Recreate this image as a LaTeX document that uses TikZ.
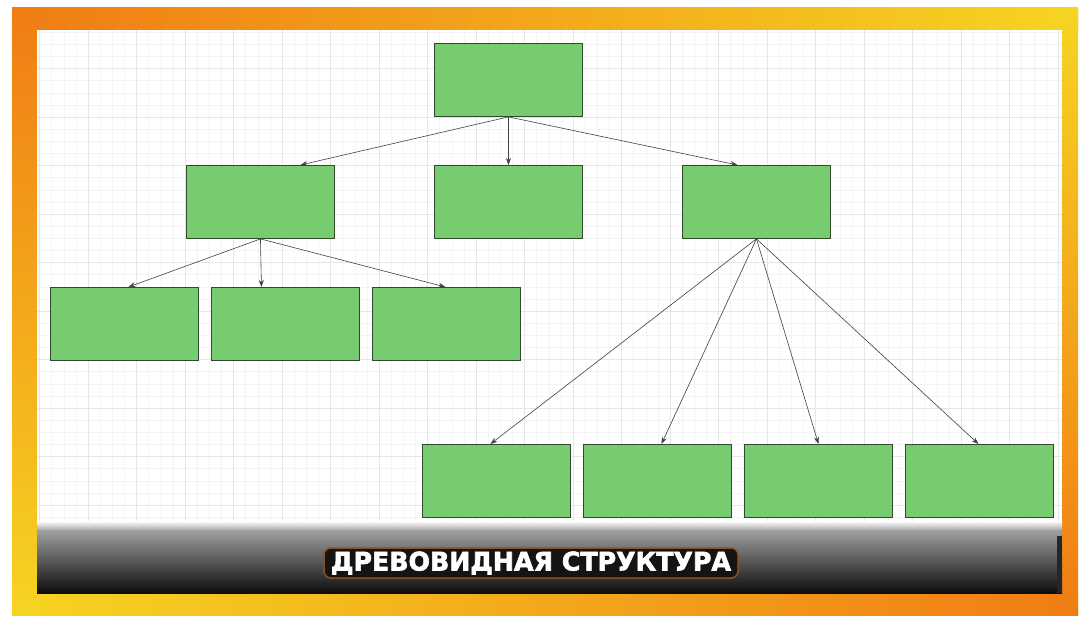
\documentclass[tikz,border=0pt]{standalone}
\usepackage{fontspec}
\usepackage{graphicx}
\newfontfamily\ttlfont[FakeBold=2.5]{DejaVu Sans}
\usetikzlibrary{arrows.meta}
\definecolor{boxgreen}{HTML}{76CC6F}
\definecolor{boxedge}{HTML}{2F4A2D}
\definecolor{frameor}{HTML}{F07C14}
\definecolor{frameye}{HTML}{F6D422}
\definecolor{gridmaj}{HTML}{E6E6E6}
\definecolor{gridmin}{HTML}{F4F4F4}
\definecolor{glow}{HTML}{8A5220}
\newcommand{\ttltext}{\resizebox{400pt}{19pt}{\ttlfont\bfseries ДРЕВОВИДНАЯ СТРУКТУРА}}
\begin{document}
\begin{tikzpicture}[x=1pt,y=-1pt,
 leaf/.style={draw=boxedge, line width=0.9pt, fill=boxgreen, minimum width=148pt, minimum height=73pt, inner sep=0pt, anchor=north west},
 link/.style={draw=black!75, line width=0.6pt, -{Stealth[length=7pt,width=5pt]}},
 ttlnode/.style={inner sep=0pt, text=white}]
\useasboundingbox (0,0) rectangle (1082,618);
\fill[white] (0,0) rectangle (1082,618);
% frame
\shade[left color=frameor, right color=frameye] (12,8) rectangle (1078,30);
\shade[left color=frameye, right color=frameor] (12,593) rectangle (1078,615);
\shade[top color=frameor, bottom color=frameye] (12,8) rectangle (37,615);
\shade[top color=frameye, bottom color=frameor] (1062,8) rectangle (1078,615);
% inner area with grid
\fill[white] (37,30) rectangle (1062,593);
\begin{scope}
\clip (37,30) rectangle (1062,593);
\foreach \i in {0,...,87} \draw[gridmin, line width=0.4pt] ({39.5+12.125*\i},30) -- ({39.5+12.125*\i},593);
\foreach \j in {1,...,48} \draw[gridmin, line width=0.4pt] (37,{20+12.125*\j}) -- (1062,{20+12.125*\j});
\foreach \i in {0,...,21} \draw[gridmaj, line width=0.8pt] ({39.5+48.5*\i},30) -- ({39.5+48.5*\i},593);
\foreach \j in {1,...,12} \draw[gridmaj, line width=0.8pt] (37,{20+48.5*\j}) -- (1062,{20+48.5*\j});
\end{scope}
% dark bar
\shade[top color=white, bottom color=gray!75] (37,521) rectangle (1062,531);
\shade[top color=gray!75, middle color=black!70, bottom color=black!95] (37,530) rectangle (1062,593);
\fill[black!85] (1057,536) rectangle (1062,593);
% title
\node[fill=black!92, draw=glow, line width=1.5pt, rounded corners=7pt, minimum width=414pt, minimum height=30pt] (tbg) at (531,563) {};
\node[ttlnode] (ttl) at (tbg.center) {\ttltext};
% boxes
\node[leaf] (r) at (434,43) {};
\node[leaf] (a) at (186,165) {};
\node[leaf] (b) at (434,165) {};
\node[leaf] (c) at (682,165) {};
\node[leaf] (a1) at (50,287) {};
\node[leaf] (a2) at (211,287) {};
\node[leaf] (a3) at (372,287) {};
\node[leaf] (c1) at (422,444) {};
\node[leaf] (c2) at (583,444) {};
\node[leaf] (c3) at (744,444) {};
\node[leaf] (c4) at (905,444) {};
% connectors
\draw[link] (r.south) -- ([xshift=40pt]a.north);
\draw[link] (r.south) -- (b.north);
\draw[link] (r.south) -- ([xshift=-19pt]c.north);
\draw[link] (a.south) -- ([xshift=4pt]a1.north);
\draw[link] (a.south) -- ([xshift=-24pt]a2.north);
\draw[link] (a.south) -- ([xshift=-1pt]a3.north);
\draw[link] (c.south) -- ([xshift=-6pt]c1.north);
\draw[link] (c.south) -- ([xshift=4pt]c2.north);
\draw[link] (c.south) -- (c3.north);
\draw[link] (c.south) -- ([xshift=-1pt]c4.north);
\end{tikzpicture}
\end{document}
